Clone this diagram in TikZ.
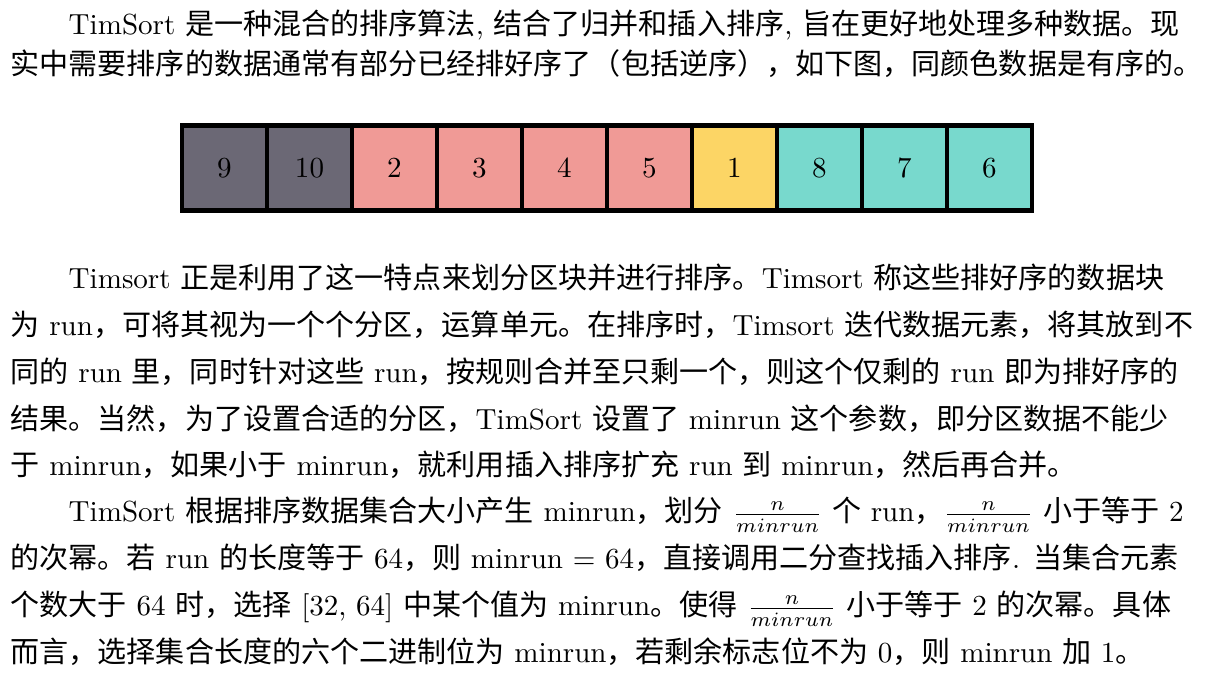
\documentclass[tikz,border=0pt]{standalone}
\usepackage{fontspec}
\usepackage{amsmath}
\newfontfamily\zh{Noto Sans CJK SC}
\XeTeXlinebreaklocale "zh"
\XeTeXlinebreakskip=0pt plus 1pt minus 0.1pt
\tolerance=10000
\pretolerance=-1
\hbadness=10000
\hfuzz=30pt
\definecolor{slate}{RGB}{107,104,117}
\definecolor{salmon}{RGB}{240,154,150}
\definecolor{amber}{RGB}{252,213,101}
\definecolor{teal}{RGB}{120,217,205}
% a line that runs to the right margin
\newcommand{\jl}{\parfillskip=0pt\spaceskip=3.33pt plus 3pt minus 1.1pt\relax}

\begin{document}
\begin{tikzpicture}[x=0.344pt, y=-0.344pt,
    txt/.style={anchor=base west, inner sep=0pt, text width=410pt, align=justify},
    cell/.style={draw=black, line width=1.6pt, minimum size=29.24pt, inner sep=0pt}]
    \useasboundingbox (0,0) rectangle (1218,677);

    % first paragraph
    \node[txt] (p1a) at (10,35) {\jl\hspace*{2em}TimSort {\zh 是一种混合的排序算法}, {\zh 结合了归并和插入排序}, {\zh 旨在更好地处理多种数据。现}};
    \node[txt] (p1b) at (10,75) {\jl{\zh 实中需要排序的数据通常有部分已经排好序了（包括逆序），如下图，同颜色数据是有序的。}};

    % the runs
    \foreach \v/\c [count=\i] in {9/slate,10/slate,2/salmon,3/salmon,4/salmon,5/salmon,1/amber,8/teal,7/teal,6/teal}
        \node[cell, fill=\c] (c\i) at (139.5+85*\i,168) {\v};

    % second paragraph
    \node[txt] (p2a) at (10,289) {\jl\hspace*{2em}Timsort {\zh 正是利用了这一特点来划分区块并进行排序。}Timsort {\zh 称这些排好序的数据块}};
    \node[txt] (p2b) at (10,336) {\jl{\zh 为} run{\zh ，可将其视为一个个分区，运算单元。在排序时，}Timsort {\zh 迭代数据元素，将其放到不}};
    \node[txt] (p2c) at (10,383) {\jl{\zh 同的} run {\zh 里，同时针对这些} run{\zh ，按规则合并至只剩一个，则这个仅剩的} run {\zh 即为排好序的}};
    \node[txt] (p2d) at (10,429.5) {\jl{\zh 结果。当然，为了设置合适的分区，}TimSort {\zh 设置了} minrun {\zh 这个参数，即分区数据不能少}};
    \node[txt] (p2e) at (10,476) {{\zh 于} minrun{\zh ，如果小于} minrun{\zh ，就利用插入排序扩充} run {\zh 到} minrun{\zh ，然后再合并。}};

    % third paragraph
    \node[txt] (p3a) at (10,522) {\jl\hspace*{2em}TimSort {\zh 根据排序数据集合大小产生} minrun{\zh ，划分} $\frac{n}{minrun}$ {\zh 个} run{\zh ，}$\frac{n}{minrun}$ {\zh 小于等于} 2};
    \node[txt] (p3b) at (10,569) {\jl{\zh 的次幂。若} run {\zh 的长度等于} 64{\zh ，则} minrun $=$ 64{\zh ，直接调用二分查找插入排序}. {\zh 当集合元素}};
    \node[txt] (p3c) at (10,616) {\jl{\zh 个数大于} 64 {\zh 时，选择} [32, 64] {\zh 中某个值为} minrun{\zh 。使得} $\frac{n}{minrun}$ {\zh 小于等于} 2 {\zh 的次幂。具体}};
    \node[txt] (p3d) at (10,663) {{\zh 而言，选择集合长度的六个二进制位为} minrun{\zh ，若剩余标志位不为} 0{\zh ，则} minrun {\zh 加} 1{\zh 。}};
\end{tikzpicture}
\end{document}
